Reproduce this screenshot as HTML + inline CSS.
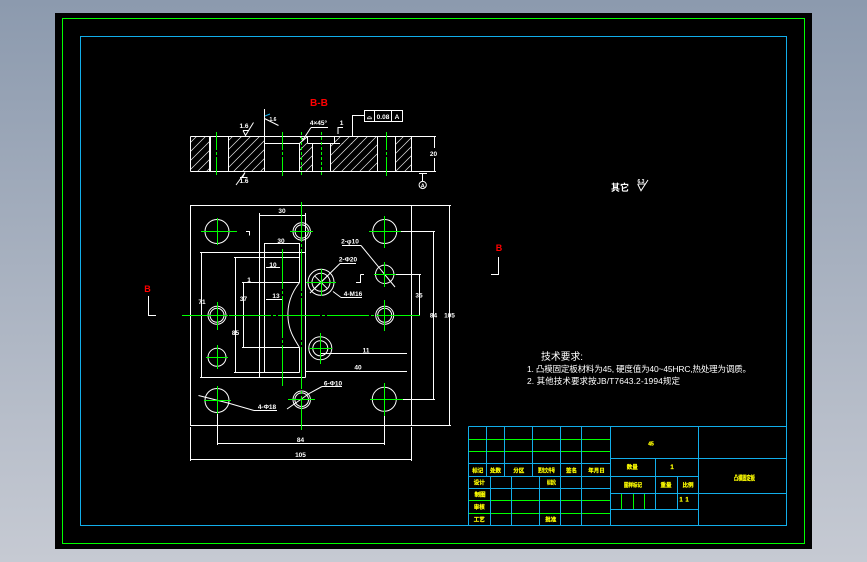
<!DOCTYPE html>
<html><head><meta charset="utf-8"><style>
html,body{margin:0;padding:0;width:867px;height:562px;overflow:hidden;background:linear-gradient(180deg,#8c9aae 0%,#c6cad3 100%)}
svg{display:block;position:absolute;left:0;top:0}
text{font-family:"Liberation Sans","Noto Sans CJK SC",sans-serif;font-weight:700}
.w{fill:#fff;font-size:6.5px;text-anchor:middle}
.y{fill:#ff0;font-size:5.5px;text-anchor:middle;stroke:#ff0;stroke-width:.2}
.r{fill:#f00;font-size:10px;text-anchor:middle}
</style></head><body>
<svg width="867" height="562" viewBox="0 0 867 562" xmlns="http://www.w3.org/2000/svg">
<defs><pattern id="h" patternUnits="userSpaceOnUse" width="9" height="9"><path d="M-1 10L10 -1M-1 1L1 -1M8 10L10 8" stroke="#e8e8e8" stroke-width=".7"/></pattern></defs>
<rect x="55" y="13" width="757" height="536" fill="#000"/>
<rect x="62.5" y="18.5" width="742" height="525" fill="none" stroke="#0f0"/>
<rect x="80.5" y="36.5" width="706" height="489" fill="none" stroke="#12aeea"/>

<!-- hatching -->
<g fill="url(#h)">
<rect x="190" y="136" width="19" height="35"/><rect x="228" y="136" width="36" height="35"/>
<rect x="299" y="143" width="13" height="28"/><rect x="330" y="143" width="47" height="28"/><rect x="334" y="136" width="43" height="8"/>
<rect x="395" y="136" width="16" height="35"/>
</g>

<!-- white geometry -->
<g fill="none" stroke="#fff" stroke-width="1" shape-rendering="crispEdges">
<path d="M190.5 136.5H436M190.5 171.5H436M190.5 136.5V171.5M209.5 136.5V171.5M210.5 136.5V171.5M228.5 136.5V171.5M264.5 109V171.5M299.5 143.5V171.5M312.5 143.5V171.5M330.5 143.5V171.5M377.5 136.5V171.5M395.5 136.5V171.5M411.5 136.5V171.5M264.5 143.5H299.5M307.5 143.5H340M307.5 136.5V143.5M334.5 136.5V143.5"/>
<path d="M434.5 136.5V148M434.5 158V171.5M419 173.5H427M422.5 173.5V181"/>
<path d="M352.5 136.5V115.5H364"/>
<rect x="364.5" y="110.5" width="38" height="11"/>
<path d="M374.5 110.5V121.5M391.5 110.5V121.5"/>
<path d="M311 127.5H328M338 134V127.5H343"/>
<!-- plan -->
<rect x="190.5" y="205.5" width="221" height="220"/>
<path d="M259.5 213V377.5M305.5 213V377.5M259.5 215.5H305.5M264.5 243V372.5M299.5 243V282.5M264.5 243.5H299.5M200 252.5H305.5M234 257.5H299.5M242 282.5H299.5M242 347.5H299.5M299.5 347.5V372.5M234 372.5H299.5M200 377.5H305.5M201.5 252.5V377.5M235.5 257.5V372.5M243.5 282.5V347.5M266 267.5H280M266 299.5H282"/>
<path d="M396 231.5H435M433.5 231.5V399.5M394 399.5H435M411.5 205.5H451M411.5 425.5H451M449.5 205.5V425.5M393 274.5H421M419.5 274.5V315.5"/>
<path d="M217.5 400V445M384.5 408V445M217.5 443.5H384.5M190.5 427V461M411.5 427V461M190.5 459.5H411.5"/>
<path d="M320 353.5H407M305.5 371.5H407M322 386.5H342M254 410.5H277M342 245.5H361M340 263.5H356M341 297.5H362"/>
<path d="M360.5 274.5H364M360.5 274.5V282.5H356M246 231.5H249.5V235.5"/>
</g>
<g fill="none" stroke="#fff" stroke-width="1">
<path d="M299.5 282.5C292 292 287 304 288 318C289 332 295 340 299.5 347.5"/>
<path d="M361 245.5L395 287M340 263.5L310 293M341 297.5L333 291.5M322 386.5L310 393L287 409M254 410.5L228 403L198.5 395.5"/>
<path d="M243 130.5H249M243 130.5L245.5 135.5L253.5 122.5M240 177.5H247.5M242.5 177.5L245 172.5L236 185M264.5 118.5L278.5 125.5M311 127.5L301.5 142M299.5 143.5L307.5 136.5M300 136.5L304 140"/>
<circle cx="217" cy="231.5" r="12"/>
<circle cx="301.7" cy="231.5" r="8.7"/><circle cx="301.7" cy="231.5" r="6.6"/>
<circle cx="384.7" cy="231.5" r="12"/>
<circle cx="384.7" cy="274.3" r="9.2"/>
<circle cx="384.7" cy="315.3" r="9"/><circle cx="384.7" cy="315.3" r="7"/>
<circle cx="217" cy="315.3" r="9"/><circle cx="217" cy="315.3" r="7"/>
<circle cx="217" cy="357.3" r="9"/>
<circle cx="217" cy="400.5" r="12"/>
<circle cx="301.7" cy="399.7" r="8.7"/><circle cx="301.7" cy="399.7" r="6.8"/>
<circle cx="384.3" cy="399.3" r="12"/>
<circle cx="320.3" cy="348.3" r="11.5"/><circle cx="320.3" cy="348.3" r="7.5"/>
<circle cx="321" cy="282.3" r="13"/><circle cx="321" cy="282.3" r="9"/>
<path d="M314.5 275.8L327.5 288.8M327.5 275.8L314.5 288.8"/>
<circle cx="422.7" cy="185" r="3.6"/>
<path d="M637.7 184H645M637.7 184L641 190.7L648 180"/>
</g>
<path d="M265 116L270 114" stroke="#12aeea" fill="none"/>

<!-- green centre lines: filled rectangles, long dash with short gap and dot -->
<g fill="#00ff00" shape-rendering="crispEdges">
<rect x="182" y="315" width="40" height="1"/><rect x="224" y="315" width="3" height="1"/><rect x="229" y="315" width="42" height="1"/><rect x="273" y="315" width="3" height="1"/><rect x="278" y="315" width="42" height="1"/><rect x="322" y="315" width="3" height="1"/><rect x="327" y="315" width="42" height="1"/><rect x="371" y="315" width="3" height="1"/><rect x="376" y="315" width="44" height="1"/>
<rect x="301" y="202" width="1" height="40"/><rect x="301" y="244" width="1" height="3"/><rect x="301" y="249" width="1" height="42"/><rect x="301" y="293" width="1" height="3"/><rect x="301" y="298" width="1" height="42"/><rect x="301" y="342" width="1" height="3"/><rect x="301" y="347" width="1" height="42"/><rect x="301" y="391" width="1" height="3"/><rect x="301" y="396" width="1" height="34"/>
<rect x="282" y="249" width="1" height="40"/><rect x="282" y="291" width="1" height="3"/><rect x="282" y="296" width="1" height="42"/><rect x="282" y="340" width="1" height="3"/><rect x="282" y="345" width="1" height="41"/>
</g>
<g fill="none" stroke="#00ff00" stroke-width="1" shape-rendering="crispEdges">
<path d="M216.5 132V150M216.5 152V155M216.5 157V175M282.5 132V150M282.5 152V155M282.5 157V176M386.5 132V150M386.5 152V155M386.5 157V176"/>
<path d="M301.5 132V135M301.5 137V140M301.5 142V145M301.5 147V150M301.5 152V155M301.5 157V160M301.5 162V165M301.5 167V170M301.5 172V175M321.5 132V135M321.5 137V140M321.5 142V145M321.5 147V150M321.5 152V155M321.5 157V160M321.5 162V165M321.5 167V170M321.5 172V175"/>
<path d="M201 231.5H237M217.5 218V245M290 231.5H313M384.5 216V248M369 231.5H401M384.5 262V287M374 274.5H396M384.5 300V331M217.5 302V330M206 315.5H228M217.5 345V369M206 357.5H228M217.5 386V414M204 400.5H231M288 399.5H315M370 399.5H403M384.5 383V416M309 348.5H332M320.5 333V364M306 282.5H336M321.5 269V296"/>
</g>

<!-- title block -->
<g fill="none" stroke="#0f0" stroke-width="1" shape-rendering="crispEdges">
<path d="M468.5 439.5H610M468.5 451.5H610M468.5 500.5H610M468.5 513.5H610M621.5 493.5V509M633.5 493.5V509M644.5 493.5V509"/>
</g>
<g fill="none" stroke="#12aeea" stroke-width="1" shape-rendering="crispEdges">
<path d="M468.5 426.5H786.5M468.5 525.5H786.5M468.5 426.5V525.5M786.5 426.5V525.5M486.5 426.5V476.5M504.5 426.5V476.5M532.5 426.5V476.5M560.5 426.5V525.5M581.5 426.5V525.5M610.5 426.5V525.5M698.5 426.5V525.5M490.5 476.5V525.5M511.5 476.5V525.5M539.5 476.5V525.5M468.5 463.5H610M468.5 476.5H698M468.5 488.5H610M610 458.5H786.5M610 493.5H786.5M610 509.5H698M655.5 458.5V509.5M677.5 476.5V509.5"/>
</g>

<!-- red labels and section marks -->
<text class="r" x="319" y="106" textLength="18" lengthAdjust="spacingAndGlyphs">B-B</text>
<text class="r" x="147.5" y="292" style="font-size:9px">B</text>
<text class="r" x="499" y="251" style="font-size:9px">B</text>
<path d="M148.5 296V315.5H156M498.5 257V274.5H491" fill="none" stroke="#fff" shape-rendering="crispEdges"/>

<!-- white labels -->
<text class="w" x="244" y="128">1.6</text>
<text class="w" x="244" y="183">1.6</text>
<text class="w" x="273" y="121" style="font-size:5px">1.6</text>
<text class="w" x="318.5" y="125">4×45°</text>
<text class="w" x="341.5" y="125">1</text>
<text class="w" x="369.5" y="119">⌓</text>
<text class="w" x="383" y="119">0.08</text>
<text class="w" x="397" y="119">A</text>
<text class="w" x="433.5" y="156">20</text>
<text class="w" x="422.7" y="187.5" style="font-size:5.5px">A</text>
<text class="w" x="282" y="213">30</text>
<text class="w" x="281" y="243">30</text>
<text class="w" x="273" y="267">10</text>
<text class="w" x="276" y="298">13</text>
<text class="w" x="249" y="282">1</text>
<text class="w" x="202" y="304">71</text>
<text class="w" x="243.5" y="301">37</text>
<text class="w" x="235.5" y="335">85</text>
<text class="w" x="350" y="243.5">2-φ10</text>
<text class="w" x="348" y="261.5">2-Φ20</text>
<text class="w" x="353" y="296">4-M16</text>
<text class="w" x="333" y="385.5">6-Φ10</text>
<text class="w" x="267" y="409">4-Φ18</text>
<text class="w" x="419" y="297.5">35</text>
<text class="w" x="433.5" y="317.5">84</text>
<text class="w" x="449.5" y="317.5">105</text>
<text class="w" x="366" y="352.5">11</text>
<text class="w" x="358" y="369.5">40</text>
<text class="w" x="300.5" y="442">84</text>
<text class="w" x="300.5" y="457">105</text>
<text fill="#fff" x="611" y="191" style="font-size:9.5px" textLength="18" lengthAdjust="spacingAndGlyphs">其它</text>
<text class="w" x="641" y="183" style="font-size:5px">6.3</text>

<!-- technical requirements -->
<g fill="#fff">
<text x="541" y="360" textLength="42" lengthAdjust="spacingAndGlyphs" style="font-weight:400;font-size:10px">技术要求:</text>
<text x="527" y="372" textLength="224" lengthAdjust="spacing" style="font-weight:400;font-size:8.5px">1. 凸模固定板材料为45, 硬度值为40~45HRC,热处理为调质。</text>
<text x="527" y="384" textLength="153" lengthAdjust="spacing" style="font-weight:400;font-size:8.5px">2. 其他技术要求按JB/T7643.2-1994规定</text>
</g>

<!-- title block text -->
<text class="y" x="477.8" y="472.5">标记</text>
<text class="y" x="495.5" y="472.5">处数</text>
<text class="y" x="518.7" y="472.5">分区</text>
<text class="y" x="546.5" y="472.5" textLength="17" lengthAdjust="spacingAndGlyphs">更改文件号</text>
<text class="y" x="571.5" y="472.5">签名</text>
<text class="y" x="596.5" y="472.5">年月日</text>
<text class="y" x="479.3" y="484.5">设计</text>
<text class="y" x="551.5" y="484.5" textLength="9" lengthAdjust="spacingAndGlyphs">标准化</text>
<text class="y" x="480" y="496.5">制图</text>
<text class="y" x="479.3" y="509">审核</text>
<text class="y" x="479.3" y="521.5">工艺</text>
<text class="y" x="550.7" y="521.5">批准</text>
<text class="y" x="651" y="445.5" style="font-size:5px">45</text>
<text class="y" x="632.3" y="469">数量</text>
<text class="y" x="672" y="469" style="font-size:6px">1</text>
<text class="y" x="633" y="487" textLength="18" lengthAdjust="spacingAndGlyphs">图样标记</text>
<text class="y" x="666" y="487">重量</text>
<text class="y" x="688" y="487">比例</text>
<text class="y" x="681" y="501.5" style="font-size:6px">1</text>
<text class="y" x="687" y="501.5" style="font-size:6px">1</text>
<text class="y" x="744.5" y="480" textLength="21" lengthAdjust="spacingAndGlyphs" style="font-size:6.5px">凸模固定板</text>
</svg>
</body></html>
